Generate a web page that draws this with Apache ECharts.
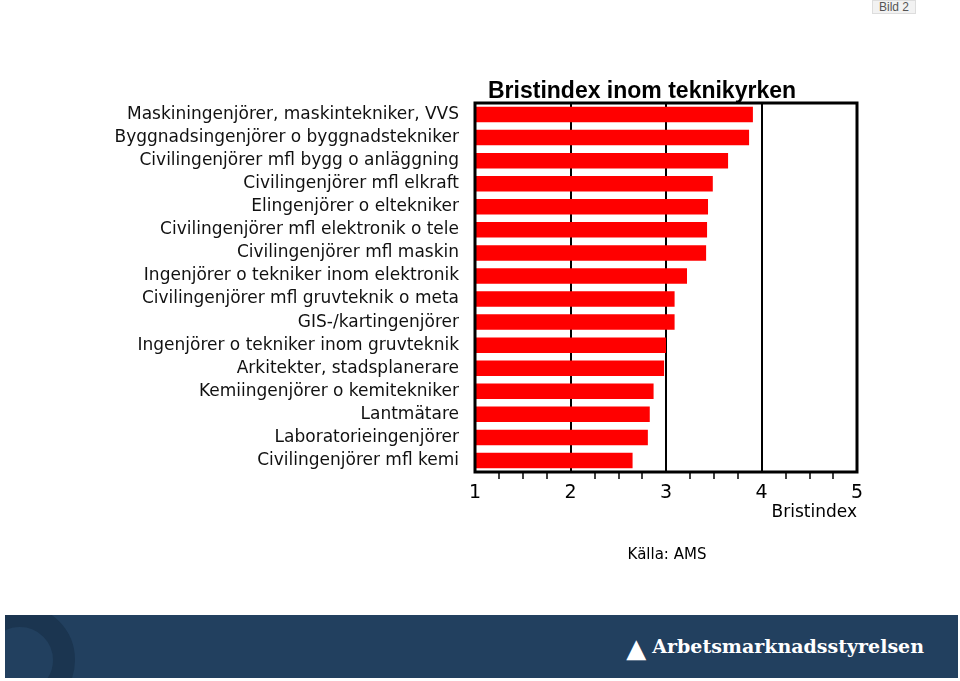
<!DOCTYPE html>
<html><head><meta charset="utf-8">
<script src="https://cdn.jsdelivr.net/npm/echarts@6/dist/echarts.min.js"></script>
<style>
body{margin:0;background:#fff;font-family:"Liberation Sans",Arial,sans-serif}
#main{width:960px;height:681px;position:absolute;left:0;top:0}
#bild{position:absolute;right:44px;top:0;font-size:12px;color:#555;background:#f2f2f2;border:1px solid #ddd;padding:0 6px;height:12px;line-height:12px}
#banner{position:absolute;left:5px;top:615px;width:953px;height:63px;background:#22405f;overflow:hidden}
#banner .arc{position:absolute;left:-40px;top:-10px;width:110px;height:110px;border-radius:50%;border:22px solid #1b3550;box-sizing:border-box}
#logo{position:absolute;right:34px;top:18px;color:#fff;font-family:"DejaVu Serif",serif;font-weight:bold;font-size:19px}
#logo b{display:inline-block;font-size:26px;vertical-align:-4px;margin-right:6px}
</style></head><body>
<div id="main"></div>
<div id="bild">Bild 2</div>
<div id="banner"><div class="arc"></div><div id="logo"><b>&#9650;</b>Arbetsmarknadsstyrelsen</div></div>
<script>
var categories = ['Maskiningenjörer, maskintekniker, VVS','Byggnadsingenjörer o byggnadstekniker','Civilingenjörer mfl bygg o anläggning','Civilingenjörer mfl elkraft','Elingenjörer o eltekniker','Civilingenjörer mfl elektronik o tele','Civilingenjörer mfl maskin','Ingenjörer o tekniker inom elektronik','Civilingenjörer mfl gruvteknik o meta','GIS-/kartingenjörer','Ingenjörer o tekniker inom gruvteknik','Arkitekter, stadsplanerare','Kemiingenjörer o kemitekniker','Lantmätare','Laboratorieingenjörer','Civilingenjörer mfl kemi'];
var values = [3.91,3.87,3.65,3.49,3.44,3.43,3.42,3.22,3.09,3.09,3.00,2.98,2.87,2.83,2.81,2.65];
var xTicks = [1,2,3,4,5];

var chart = echarts.init(document.getElementById('main'));
chart.setOption({
  animation:false,
  title:{text:'Bristindex inom teknikyrken',left:483,top:75,textStyle:{fontSize:23,fontWeight:'bold',color:'#000',fontFamily:'Liberation Sans'}},
  graphic:[
    {type:'rect',shape:{x:475,y:103,width:382,height:369},style:{fill:'none',stroke:'#000',lineWidth:3},z:10},
    {type:'text',style:{text:'Bristindex',x:857,y:504,align:'right',fontSize:17,fontFamily:'DejaVu Sans',fill:'#000'}},
    {type:'text',style:{text:'Källa: AMS',x:667,y:548,align:'center',fontSize:15,fontFamily:'DejaVu Sans',fill:'#000'}}
  ],
  grid:{left:475,right:103,top:103,bottom:209},
  xAxis:{type:'value',min:1,max:5,interval:1,
    axisLine:{show:false},
    axisTick:{show:false},
    minorTick:{show:true,splitNumber:4,length:7,lineStyle:{color:'#000',width:1.5}},
    splitLine:{show:true,lineStyle:{color:'#000',width:2}},
    axisLabel:{fontSize:19,color:'#000',fontFamily:'DejaVu Sans',margin:12,formatter:function(v){return xTicks.indexOf(v)>=0?String(v):'';}}
  },
  yAxis:{type:'category',inverse:true,data:categories,
    axisLine:{show:false},axisTick:{show:false},
    axisLabel:{fontSize:17,color:'#111',fontFamily:'DejaVu Sans',margin:16}
  },
  series:[{type:'bar',data:values,barCategoryGap:'33%',itemStyle:{color:'#ff0000'},z:3}]
});
</script>
</body></html>
